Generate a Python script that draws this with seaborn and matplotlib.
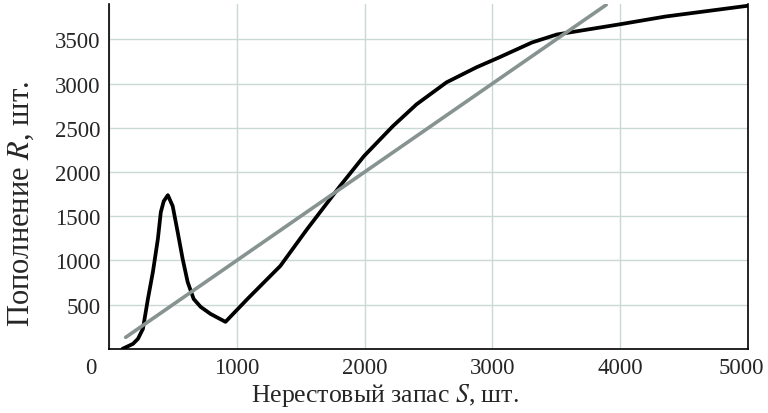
import matplotlib
matplotlib.use("Agg")
import matplotlib.pyplot as plt
import matplotlib.transforms as mtransforms
import seaborn as sns
import pandas as pd

# stock-recruitment curve
spawn_s = [105, 187, 226, 265, 304, 343, 382, 405, 428, 460, 498, 537, 576, 615,
           662, 717, 794, 911, 1083, 1340, 1550, 1807, 1994, 2220, 2406, 2640,
           2874, 3053, 3310, 3505, 3988, 4354, 5000]
recruit_r = [0, 56, 113, 226, 564, 869, 1242, 1546, 1670, 1738, 1614, 1320, 1016, 756,
             564, 474, 395, 305, 564, 937, 1354, 1840, 2178, 2517, 2765, 3013,
             3183, 3296, 3465, 3555, 3668, 3758, 3880]

# replacement line R = S
line_s = [130, 3890]
line_r = [130, 3890]

x_ticks = [0, 1000, 2000, 3000, 4000, 5000]
y_ticks = [500, 1000, 1500, 2000, 2500, 3000, 3500]

sns.set_style("white")
plt.rcParams["font.family"] = ["Liberation Serif", "DejaVu Serif"]
plt.rcParams["mathtext.fontset"] = "stix"

curve = pd.DataFrame({"S": spawn_s, "R": recruit_r})
repl = pd.DataFrame({"S": line_s, "R": line_r})

fig = plt.figure(figsize=(7.68, 4.14), dpi=100)
ax = fig.add_axes([0.142, 0.155, 0.832, 0.833])

ax.grid(True, color="#c9dad6", linewidth=1.0)
ax.set_axisbelow(True)

sns.lineplot(data=curve, x="S", y="R", ax=ax, color="black", linewidth=2.7,
             sort=False, estimator=None)
sns.lineplot(data=repl, x="S", y="R", ax=ax, color="#879391", linewidth=2.6,
             sort=False, estimator=None)

ax.set_xlim(0, 5000)
ax.set_ylim(0, 3900)
ax.set_xticks(x_ticks)
ax.set_yticks(y_ticks)
ax.set_xticklabels([str(v) for v in x_ticks])
ax.set_yticklabels([str(v) for v in y_ticks])
ax.tick_params(axis="both", labelsize=16.5, length=3, width=1, color="black",
               direction="out", pad=3)

# origin label sits left of the corner, last label pulled in from the edge
xlabels = ax.get_xticklabels()
xlabels[0].set_transform(xlabels[0].get_transform()
                         + mtransforms.ScaledTranslation(-0.18, 0, fig.dpi_scale_trans))
xlabels[-1].set_transform(xlabels[-1].get_transform()
                          + mtransforms.ScaledTranslation(-0.07, 0, fig.dpi_scale_trans))

for side in ["left", "bottom", "right"]:
    ax.spines[side].set_visible(True)
    ax.spines[side].set_color("black")
    ax.spines[side].set_linewidth(1.2)
ax.spines["top"].set_visible(False)

ax.set_xlabel("Нерестовый запас $S$, шт.", fontsize=18.5)
ax.set_ylabel("Пополнение $R$, шт.", fontsize=22)
ax.xaxis.set_label_coords(0.432, -0.092)
ax.yaxis.set_label_coords(-0.115, 0.424)

fig.savefig("out.png", dpi=100)
